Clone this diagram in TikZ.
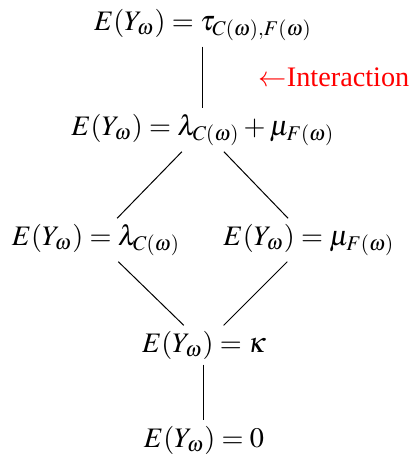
\documentclass[tikz,border=0pt]{standalone}
\usepackage{mathptmx}
\usepackage{fontspec}
\setmainfont{Liberation Serif}
\usepackage{tikz}
\usepackage{xcolor}

\begin{document}
\begin{tikzpicture}[x=0.4pt, y=-0.4pt, every node/.style={font=\fontsize{11.3}{13.5}\selectfont}, level/.style={inner sep=2pt}]
        \useasboundingbox (0,0) rectangle (413,462);
        % Models, from the largest to the smallest
        \node[level] (inter) at (203,25) {$E(Y_\omega)=\tau_{C(\omega),F(\omega)}$};
        \node[level] (add) at (203,130) {$E(Y_\omega)=\lambda_{C(\omega)}+\mu_{F(\omega)}$};
        \node[level] (row) at (96,240) {$E(Y_\omega)=\lambda_{C(\omega)}$};
        \node[level] (col) at (309,240) {$E(Y_\omega)=\mu_{F(\omega)}$};
        \node[level] (const) at (204,345) {$E(Y_\omega)=\kappa$};
        \node[level] (null) at (204,440) {$E(Y_\omega)=0$};
        % Hasse edges
        \foreach \a/\b in {inter/add, add/row, add/col, row/const, col/const, const/null}{
          \draw (\a) -- (\b);
        }
        \node[red] (lab) at (334,77) {$\leftarrow$Interaction};
      \end{tikzpicture}
\end{document}
